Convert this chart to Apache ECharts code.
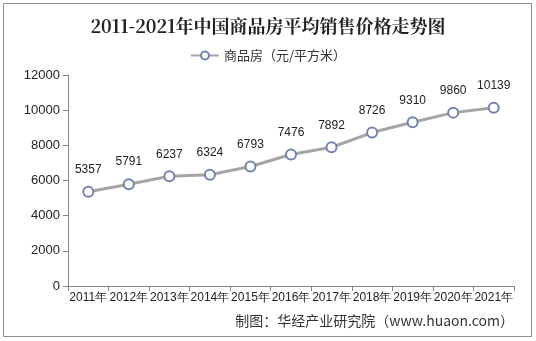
<!DOCTYPE html>
<html><head><meta charset="utf-8">
<script src="https://cdn.jsdelivr.net/npm/echarts@6/dist/echarts.min.js"></script>
<style>html,body{margin:0;padding:0;background:#fff}#c{width:536px;height:341px}</style>
</head><body><div id="c"></div>
<script>
var categories = ['2011年','2012年','2013年','2014年','2015年','2016年','2017年','2018年','2019年','2020年','2021年'];
var values = [5357,5791,6237,6324,6793,7476,7892,8726,9310,9860,10139];
var seriesName = '商品房（元/平方米）';
var chart = echarts.init(document.getElementById('c'));
chart.setOption({
  backgroundColor:'#fff',
  animation:false,
  graphic:[
    {type:'rect',shape:{x:3.5,y:3.5,width:528,height:333},style:{fill:'none',stroke:'#8c8c8c',lineWidth:1}},
    {type:'text',right:22,top:314,style:{text:'制图：华经产业研究院（www.huaon.com）',font:'14px "Noto Sans CJK SC", sans-serif',fill:'#333'}}
  ],
  title:{text:'2011-2021年中国商品房平均销售价格走势图',left:'center',top:12,
    textStyle:{fontFamily:'"Noto Serif CJK SC","DejaVu Serif",serif',fontSize:18,fontWeight:'bold',color:'#222'}},
  legend:{top:44,left:'center',itemWidth:28,itemHeight:10,itemGap:4,
    textStyle:{fontSize:13,color:'#333',fontFamily:'"Noto Sans CJK SC",sans-serif'},
    data:[{name:seriesName}]},
  grid:{left:68,right:22,top:75,bottom:55,containLabel:false},
  xAxis:{type:'category',data:categories,boundaryGap:true,
    axisLine:{lineStyle:{color:'#868686'}},axisTick:{show:true,lineStyle:{color:'#868686'}},
    axisLabel:{interval:0,fontSize:12,color:'#222',margin:6,fontFamily:'Arial,"Liberation Sans",sans-serif'}},
  yAxis:{type:'value',min:0,max:12000,interval:2000,
    axisLine:{show:true,lineStyle:{color:'#868686'}},axisTick:{show:true,lineStyle:{color:'#868686'}},
    splitLine:{show:false},
    axisLabel:{fontSize:13,color:'#222',margin:8,fontFamily:'Arial,"Liberation Sans",sans-serif',formatter:function(v){return String(v);}}},
  series:[{name:seriesName,type:'line',data:values,symbol:'circle',symbolSize:10,
    lineStyle:{color:'#a5a5a5',width:3},
    itemStyle:{color:'#fff',borderColor:'#7283ad',borderWidth:2},
    label:{show:true,position:'top',distance:10,fontSize:12,color:'#222',fontFamily:'Arial,"Liberation Sans",sans-serif'}}]
});
</script></body></html>
